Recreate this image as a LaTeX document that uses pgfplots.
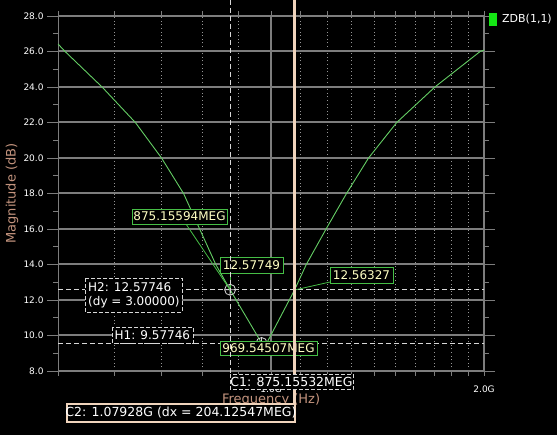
\documentclass[border=0pt]{standalone}
\usepackage{pgfplots}
\pgfplotsset{compat=1.18}
\usepackage{pgfplotstable}
\usepackage{fontspec}
\setmainfont{DejaVu Sans}

\definecolor{gridgray}{RGB}{125,125,125}
\definecolor{dotgray}{RGB}{150,150,150}
\definecolor{trace}{RGB}{100,205,100}
\definecolor{mkgreen}{RGB}{70,190,70}
\definecolor{mktext}{RGB}{255,255,195}
\definecolor{cursortwo}{RGB}{240,212,188}
\definecolor{axlabel}{RGB}{196,148,126}
\definecolor{leggreen}{RGB}{20,230,20}
\definecolor{dashgray}{RGB}{215,215,215}

\newcommand\ticksz{\fontsize{9}{10}\selectfont}
\newcommand\lblsz{\fontsize{12}{14}\selectfont}

% ZDB(1,1) sweep, frequency in Hz
\pgfplotstableread{
f         zdb
5.000e8   26.42
5.115e8   26.00
5.770e8   24.00
6.430e8   22.00
7.002e8   20.00
7.522e8   18.00
7.927e8   16.00
8.353e8   14.00
8.7516e8  12.577
9.6955e8  9.577
9.870e8   9.61
1.07928e9 12.563
1.1213e9  14.00
1.1960e9  16.00
1.2781e9  18.00
1.3732e9  20.00
1.5050e9  22.00
1.7043e9  24.00
1.9746e9  26.00
2.000e9   26.08
}\zdbtable

\begin{document}
\begin{tikzpicture}
\fill[black] (0,0) rectangle (557pt,-435pt);
\useasboundingbox (0,0) rectangle (557pt,-435pt);
\begin{axis}[
  at={(58pt,-371pt)}, anchor=south west,
  scale only axis, width=426pt, height=355pt,
  xmode=log, xmin=5e8, xmax=2e9, ymin=8, ymax=28,
  clip=false,
  axis line style={gridgray, line width=1pt},
  tick align=outside,
  major tick length=11pt, minor tick length=5pt,
  tick style={gridgray, line width=0.8pt},
  major x tick style={draw=none},
  xtick={1e9,2e9}, xticklabels={1.0G,2.0G},
  minor xtick={5e8,6e8,7e8,8e8,9e8,1e9,1.1e9,1.2e9,1.3e9,1.4e9,1.5e9,1.6e9,1.7e9,1.8e9,1.9e9,2e9},
  ytick={8,10,...,28}, minor ytick={9,11,...,27},
  yticklabel style={/pgf/number format/.cd, fixed, fixed zerofill, precision=1, assume math mode=true},
  ticklabel style={white, font=\ticksz},
  xmajorgrids, xminorgrids, ymajorgrids,
  major x grid style={gridgray, line width=2pt},
  minor x grid style={dotgray, line width=0.8pt, dash pattern=on 1pt off 2.6pt},
  major y grid style={gridgray, line width=2pt},
  xlabel={Frequency (Hz)}, ylabel={Magnitude (dB)},
  label style={axlabel, font=\fontsize{13}{15}\selectfont},
  xlabel style={at={(axis description cs:0.5,-0.0817)}, anchor=center},
  ylabel style={at={(axis description cs:-0.108,0.5)}, anchor=center},
  legend style={at={(axis description cs:1.0117,1.0113)}, anchor=north west,
    draw=none, fill=none, inner sep=0pt, text=white,
    font=\fontsize{11}{12}\selectfont,
    /tikz/every odd column/.append style={column sep=3pt}},
  legend image code/.code={\fill[leggreen] (0pt,-6pt) rectangle (7pt,6pt);},
]
\addplot[trace, line width=0.9pt, mark=none] table[x=f, y=zdb] {\zdbtable};
\addlegendentry{ZDB(1,1)}
\addplot[forget plot, only marks, mark=oplus, mark size=5.5pt,
  mark options={draw=dashgray, fill=none, line width=0.8pt}]
  coordinates {(8.7516e8,12.57749) (9.6955e8,9.577)};
% horizontal cursors H2 / H1
\draw[dashgray, line width=0.8pt, dash pattern=on 5pt off 3pt]
  (axis cs:5e8,12.57746) -- (axis cs:2e9,12.57746);
\draw[dashgray, line width=0.8pt, dash pattern=on 5pt off 3pt]
  (axis cs:5e8,9.57746) -- (axis cs:2e9,9.57746);
\coordinate (p1) at (axis cs:8.7516e8,12.57749);
\coordinate (p2) at (axis cs:1.07928e9,12.56327);
\end{axis}

\begin{scope}[x=1pt, y=-1pt, lbl/.style={font=\lblsz, inner sep=0pt}]
% marker readouts
\draw[mkgreen, line width=0.8pt] (186,224) -- (p1);
\draw[mkgreen, line width=0.8pt] (p1 |- 0,273) -- (p1);
\draw[mkgreen, line width=0.8pt] (330,282) -- (p2);
\filldraw[mkgreen, fill=black, line width=0.8pt] (132,209) rectangle (227,224);
\node[mktext, lbl] at (179.5,216.5) {875.15594MEG};
\filldraw[mkgreen, fill=black, line width=0.8pt] (220,257.5) rectangle (283,273);
\node[mktext, lbl] at (251.5,265.2) {12.57749};
\filldraw[mkgreen, fill=black, line width=0.8pt] (330,267.5) rectangle (393,283);
\node[mktext, lbl] at (361.5,275.2) {12.56327};
\filldraw[mkgreen, fill=black, line width=0.8pt] (220,341) rectangle (317,355);
\node[mktext, lbl] at (268.5,348) {969.54507MEG};
% vertical cursors C1 / C2
\draw[dashgray, line width=0.9pt, dash pattern=on 5pt off 3pt] (p1 |- 0,0) -- (p1 |- 0,374);
\draw[cursortwo, line width=2.2pt] (p2 |- 0,0) -- (p2 |- 0,404);
% cursor readouts
\filldraw[dashgray, fill=black, line width=0.8pt, dash pattern=on 4pt off 2pt] (85,278) rectangle (182,312);
\node[white, lbl, anchor=west] at (88,287) {H2: 12.57746};
\node[white, lbl, anchor=west] at (88,302.5) {(dy = 3.00000)};
\filldraw[dashgray, fill=black, line width=0.8pt, dash pattern=on 4pt off 2pt] (112,327) rectangle (193,343);
\node[white, lbl, anchor=west] at (114.5,335) {H1: 9.57746};
\filldraw[dashgray, fill=black, line width=0.8pt, dash pattern=on 4pt off 2pt] (230,374) rectangle (353,389.5);
\node[white, lbl, font=\fontsize{12.5}{14}\selectfont] at (291.5,381.8) {C1: 875.15532MEG};
\filldraw[cursortwo, fill=black, line width=1.8pt] (67,404) rectangle (295,422);
\node[white, lbl, font=\fontsize{12.5}{14}\selectfont] at (181,413) {C2: 1.07928G (dx = 204.12547MEG)};
\end{scope}
\end{tikzpicture}
\end{document}
